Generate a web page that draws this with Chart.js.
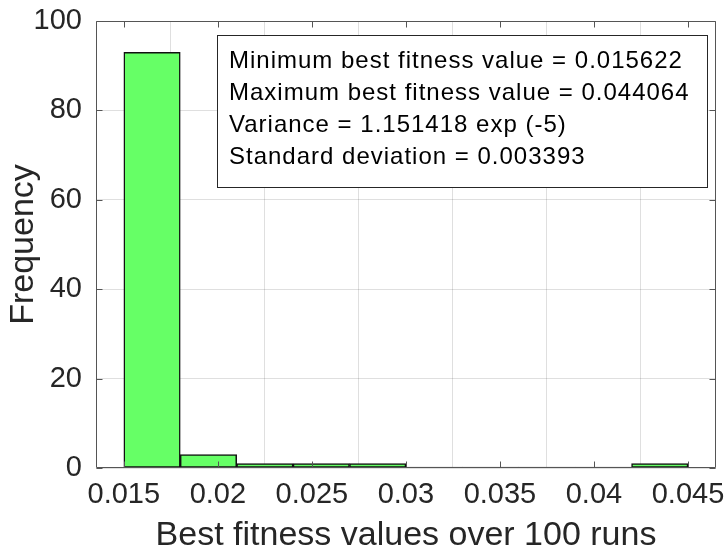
<!DOCTYPE html>
<html>
<head>
<meta charset="utf-8">
<script src="https://cdn.jsdelivr.net/npm/chart.js@4/dist/chart.umd.min.js"></script>
<style>
  html, body { margin: 0; padding: 0; background: #ffffff; }
  #wrap { width: 728px; height: 554px; }
</style>
</head>
<body>
<div id="wrap"><canvas id="c" width="728" height="554"></canvas></div>
<script>
// Histogram of the best fitness value reached in each of 100 runs
const binEdges = [0.015, 0.018, 0.021, 0.024, 0.027, 0.030, 0.033, 0.036, 0.039, 0.042, 0.045];
const binCounts = [93, 3, 1, 1, 1, 0, 0, 0, 0, 1];
const xTicks = [0.015, 0.02, 0.025, 0.03, 0.035, 0.04, 0.045];
const xTickLabels = ['0.015', '0.02', '0.025', '0.03', '0.035', '0.04', '0.045'];
const yTicks = [0, 20, 40, 60, 80, 100];
const xLimits = [0.01352, 0.04649];
const yLimits = [0, 100];
const statLines = [
  'Minimum best fitness value = 0.015622',
  'Maximum best fitness value = 0.044064',
  'Variance = 1.151418 exp (-5)',
  'Standard deviation = 0.003393'
];

const binCenters = binCounts.map((_, i) => (binEdges[i] + binEdges[i + 1]) / 2);
const barPoints = binCounts.map((n, i) => ({ x: binCenters[i], y: n }));

const FONT = "'Liberation Sans', Arial, Helvetica, sans-serif";
const AXIS_COLOR = '#555555';
const TEXT_COLOR = '#262626';

// Axes box with inward tick marks on all four sides
const axesBox = {
  id: 'axesBox',
  afterDatasetsDraw(chart) {
    const { ctx, chartArea: a, scales: { x, y } } = chart;
    const L = Math.round(a.left) + 0.5, R = Math.round(a.right) - 0.5;
    const T = Math.round(a.top) + 0.5, B = Math.round(a.bottom) - 0.5;
    const len = 6;
    ctx.save();
    ctx.strokeStyle = AXIS_COLOR;
    ctx.lineWidth = 1;
    ctx.beginPath();
    ctx.rect(L, T, R - L, B - T);
    xTicks.forEach(v => {
      const px = Math.round(x.getPixelForValue(v)) + 0.5;
      ctx.moveTo(px, B); ctx.lineTo(px, B - len);
      ctx.moveTo(px, T); ctx.lineTo(px, T + len);
    });
    yTicks.forEach(v => {
      const py = Math.round(y.getPixelForValue(v)) + 0.5;
      ctx.moveTo(L, py); ctx.lineTo(L + len, py);
      ctx.moveTo(R, py); ctx.lineTo(R - len, py);
    });
    ctx.stroke();
    ctx.restore();
  }
};

// Summary statistics panel in the upper right
const statsPanel = {
  id: 'statsPanel',
  afterDraw(chart) {
    const { ctx } = chart;
    const bx = 217.5, by = 35.5, bw = 490, bh = 152;
    ctx.save();
    ctx.fillStyle = '#ffffff';
    ctx.fillRect(bx, by, bw, bh);
    ctx.strokeStyle = '#262626';
    ctx.lineWidth = 1;
    ctx.strokeRect(bx, by, bw, bh);
    ctx.fillStyle = '#000000';
    ctx.font = `24px ${FONT}`;
    if ('letterSpacing' in ctx) ctx.letterSpacing = '1px';
    ctx.textAlign = 'left';
    ctx.textBaseline = 'alphabetic';
    statLines.forEach((t, i) => ctx.fillText(t, 229, 68 + i * 32));
    ctx.restore();
  }
};

new Chart(document.getElementById('c'), {
  type: 'bar',
  data: {
    datasets: [{
      data: barPoints,
      backgroundColor: '#66ff66',
      borderColor: '#111111',
      borderWidth: 1.5,
      borderSkipped: false,
      barPercentage: 1,
      categoryPercentage: 1,
      minBarLength: 1
    }]
  },
  options: {
    responsive: false,
    animation: false,
    events: [],
    layout: { padding: { left: 0, top: 21, right: 12, bottom: 0 } },
    plugins: { legend: { display: false }, tooltip: { enabled: false } },
    scales: {
      x: {
        type: 'linear',
        min: xLimits[0],
        max: xLimits[1],
        offset: false,
        afterBuildTicks: s => { s.ticks = xTicks.map(v => ({ value: v })); },
        afterFit: s => { s.height = 86; s.paddingLeft = 0; s.paddingRight = 0; },
        border: { display: false },
        grid: { color: 'rgba(38,38,38,0.15)', lineWidth: 1, drawTicks: false },
        ticks: {
          autoSkip: false,
          maxRotation: 0,
          padding: 10,
          color: TEXT_COLOR,
          font: { family: FONT, size: 29 },
          callback: (v) => {
            const i = xTicks.findIndex(t => Math.abs(t - v) < 1e-9);
            return i >= 0 ? xTickLabels[i] : '';
          }
        },
        title: {
          display: true,
          text: 'Best fitness values over 100 runs',
          color: TEXT_COLOR,
          font: { family: FONT, size: 34, lineHeight: 1 },
          padding: { top: 0, bottom: 1 }
        }
      },
      y: {
        min: yLimits[0],
        max: yLimits[1],
        afterBuildTicks: s => { s.ticks = yTicks.map(v => ({ value: v })); },
        afterFit: s => { s.width = 96; s.paddingTop = 0; s.paddingBottom = 0; },
        border: { display: false },
        grid: { color: 'rgba(38,38,38,0.15)', lineWidth: 1, drawTicks: false },
        ticks: {
          padding: 14,
          color: TEXT_COLOR,
          font: { family: FONT, size: 29 }
        },
        title: {
          display: true,
          text: 'Frequency',
          color: TEXT_COLOR,
          font: { family: FONT, size: 34, lineHeight: 1 },
          padding: { top: 7, bottom: 0 }
        }
      }
    }
  },
  plugins: [axesBox, statsPanel]
});
</script>
</body>
</html>
